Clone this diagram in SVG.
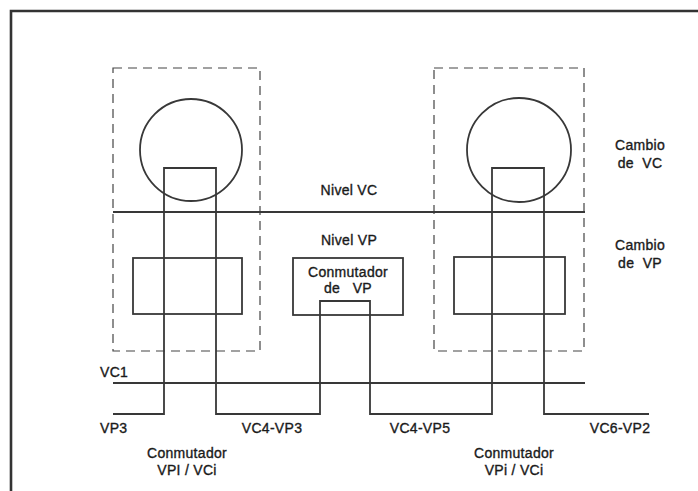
<svg xmlns="http://www.w3.org/2000/svg" width="698" height="491" viewBox="0 0 698 491">
<style>
.ln{fill:none;stroke:#383838;stroke-width:1.8}
.ds{fill:none;stroke:#444;stroke-width:1.2;stroke-dasharray:9,6}
.t{font-family:"Liberation Sans",Arial,sans-serif;font-size:14px;fill:#1a1a1a;stroke:#1a1a1a;stroke-width:0.35;letter-spacing:0.3px;white-space:pre}
.m{text-anchor:middle}
</style>
<rect width="698" height="491" fill="#fff"/>
<path d="M11,491 V11 H698" fill="none" stroke="#333" stroke-width="2.6"/>
<g id="vc-left">
<rect class="ds" x="113" y="68" width="147" height="283"/>
<circle class="ln" cx="191" cy="150" r="51"/>
</g>
<g id="vc-right">
<rect class="ds" x="434" y="68" width="150" height="283"/>
<circle class="ln" cx="519" cy="150" r="52"/>
</g>
<g id="vp-left"><rect class="ln" x="133" y="258" width="109" height="56"/></g>
<g id="vp-right"><rect class="ln" x="454" y="257" width="111" height="57"/></g>
<g id="vp-switch">
<rect class="ln" x="293" y="258" width="110" height="57"/>
<text class="t m" x="348" y="277">Conmutador</text>
<text class="t m" x="348" y="293">de   VP</text>
</g>
<g id="connectors">
<line class="ln" x1="113" y1="212" x2="585" y2="212"/>
<line class="ln" x1="113" y1="383" x2="585" y2="383"/>
<path class="ln" d="M113,414 H164 V168 H216 V414 H320 V301 H370 V414 H492 V168 H544 V414 H649"/>
</g>
<g id="labels">
<text class="t m" x="349" y="195">Nivel VC</text>
<text class="t m" x="349" y="245">Nivel VP</text>
<text class="t m" x="640" y="150">Cambio</text>
<text class="t m" x="640" y="168">de  VC</text>
<text class="t m" x="640" y="250">Cambio</text>
<text class="t m" x="640" y="268">de  VP</text>
<text class="t" x="100" y="377">VC1</text>
<text class="t" x="100" y="433">VP3</text>
<text class="t m" x="272" y="433">VC4-VP3</text>
<text class="t m" x="420" y="433">VC4-VP5</text>
<text class="t m" x="620" y="433">VC6-VP2</text>
<text class="t m" x="187" y="458">Conmutador</text>
<text class="t m" x="187" y="475">VPI / VCi</text>
<text class="t m" x="514" y="458">Conmutador</text>
<text class="t m" x="514" y="475">VPi / VCi</text>
</g>
</svg>
